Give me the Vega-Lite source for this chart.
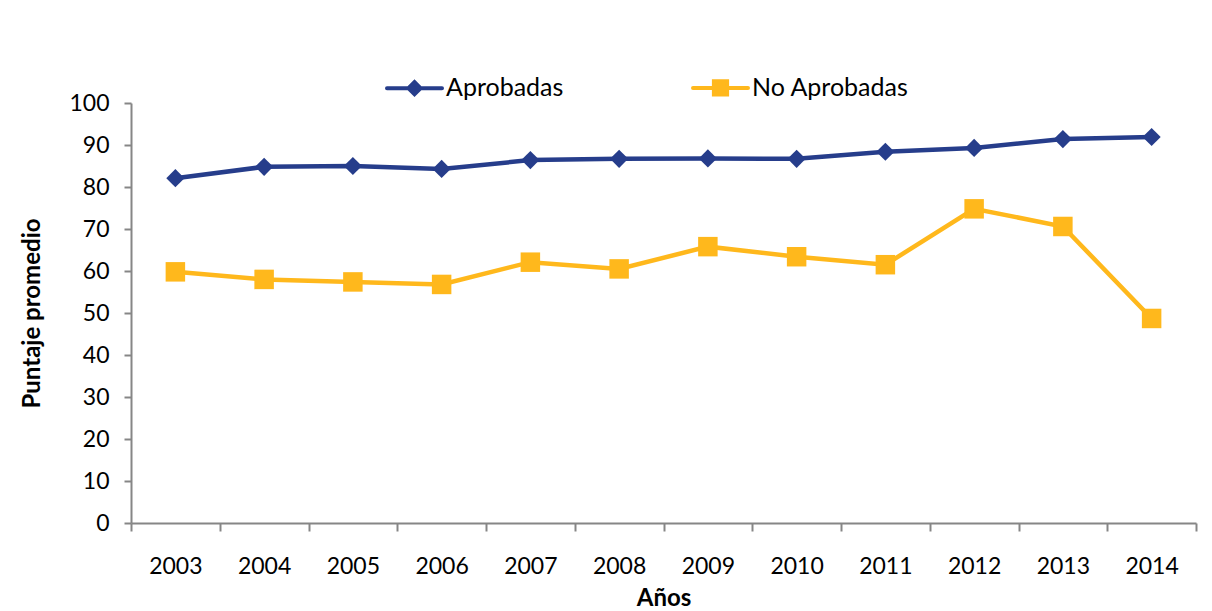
{
  "$schema": "https://vega.github.io/schema/vega-lite/v6.json",
  "width": 1065,
  "height": 420,
  "autosize": {"type": "none"},
  "padding": {"left": 131, "top": 103, "right": 16, "bottom": 88},
  "background": "white",
  "config": {
    "view": {"stroke": null},
    "font": "Lato",
    "axis": {
      "domainColor": "#868686",
      "domainWidth": 2,
      "tickColor": "#868686",
      "tickWidth": 2,
      "tickSize": 8,
      "labelColor": "#000000",
      "labelFont": "Lato",
      "labelFontSize": 23,
      "titleFont": "Lato",
      "titleFontSize": 24,
      "titleFontWeight": "bold",
      "titleColor": "#000000",
      "grid": false
    }
  },
  "data": {
    "values": [
      {"anio": "2003", "serie": "Aprobadas", "puntaje": 82.1},
      {"anio": "2004", "serie": "Aprobadas", "puntaje": 84.8},
      {"anio": "2005", "serie": "Aprobadas", "puntaje": 85.0},
      {"anio": "2006", "serie": "Aprobadas", "puntaje": 84.3},
      {"anio": "2007", "serie": "Aprobadas", "puntaje": 86.4},
      {"anio": "2008", "serie": "Aprobadas", "puntaje": 86.7},
      {"anio": "2009", "serie": "Aprobadas", "puntaje": 86.8},
      {"anio": "2010", "serie": "Aprobadas", "puntaje": 86.7},
      {"anio": "2011", "serie": "Aprobadas", "puntaje": 88.4},
      {"anio": "2012", "serie": "Aprobadas", "puntaje": 89.3},
      {"anio": "2013", "serie": "Aprobadas", "puntaje": 91.4},
      {"anio": "2014", "serie": "Aprobadas", "puntaje": 91.9},
      {"anio": "2003", "serie": "No Aprobadas", "puntaje": 59.8},
      {"anio": "2004", "serie": "No Aprobadas", "puntaje": 58.0},
      {"anio": "2005", "serie": "No Aprobadas", "puntaje": 57.4},
      {"anio": "2006", "serie": "No Aprobadas", "puntaje": 56.8},
      {"anio": "2007", "serie": "No Aprobadas", "puntaje": 62.1},
      {"anio": "2008", "serie": "No Aprobadas", "puntaje": 60.5},
      {"anio": "2009", "serie": "No Aprobadas", "puntaje": 65.8},
      {"anio": "2010", "serie": "No Aprobadas", "puntaje": 63.4},
      {"anio": "2011", "serie": "No Aprobadas", "puntaje": 61.5},
      {"anio": "2012", "serie": "No Aprobadas", "puntaje": 74.8},
      {"anio": "2013", "serie": "No Aprobadas", "puntaje": 70.6},
      {"anio": "2014", "serie": "No Aprobadas", "puntaje": 48.7}
    ]
  },
  "encoding": {
    "x": {
      "field": "anio",
      "type": "ordinal",
      "scale": {"type": "band", "paddingInner": 0, "paddingOuter": 0},
      "axis": {
        "title": "Años",
        "labelAngle": 0,
        "tickBand": "extent",
        "labelPadding": 24,
        "titlePadding": 8
      }
    },
    "y": {
      "field": "puntaje",
      "type": "quantitative",
      "scale": {"domain": [0, 100], "nice": false},
      "axis": {
        "title": "Puntaje promedio",
        "values": [0, 10, 20, 30, 40, 50, 60, 70, 80, 90, 100],
        "labelPadding": 15,
        "tickSize": 7,
        "titlePadding": 24
      }
    },
    "color": {
      "field": "serie",
      "type": "nominal",
      "scale": {"domain": ["Aprobadas", "No Aprobadas"], "range": ["#263D8B", "#FFB81C"]},
      "legend": {
        "title": null,
        "orient": "none",
        "legendX": 254,
        "legendY": -45,
        "direction": "horizontal",
        "columnPadding": 121,
        "symbolSize": 3025,
        "symbolStrokeWidth": 4,
        "symbolType": "M-1,0H1",
        "labelFont": "Lato",
        "labelFontSize": 25,
        "labelColor": "#000000",
        "labelOffset": 2,
        "encode": {
          "symbols": {
            "update": {
              "shape": {"signal": "datum.value == 'Aprobadas' ? 'M-1,0H1M-0.22,0L0,-0.22L0.22,0L0,0.22Z' : 'M-1,0H1M-0.24,-0.24H0.24V0.24H-0.24Z'"},
              "fill": {"scale": "color", "field": "value"},
              "stroke": {"scale": "color", "field": "value"},
              "opacity": {"value": 1},
              "strokeCap": {"value": "round"}
            }
          }
        }
      }
    }
  },
  "layer": [
    {
      "mark": {"type": "line", "strokeWidth": 4.5}
    },
    {
      "transform": [{"filter": "datum.serie == 'Aprobadas'"}],
      "mark": {"type": "point", "filled": true, "opacity": 1, "shape": "diamond", "size": 330}
    },
    {
      "transform": [{"filter": "datum.serie == 'No Aprobadas'"}],
      "mark": {"type": "point", "filled": true, "opacity": 1, "shape": "square", "size": 380}
    }
  ]
}
